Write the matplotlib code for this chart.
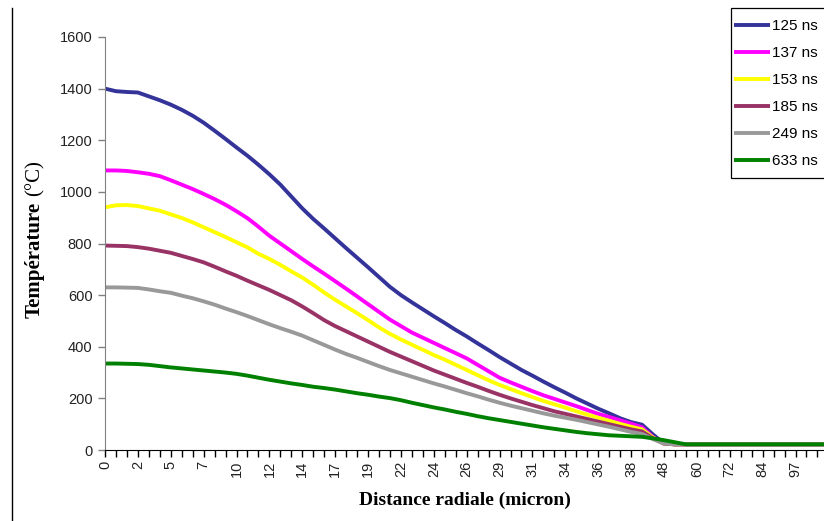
import matplotlib
matplotlib.use("Agg")
import matplotlib.pyplot as plt
from matplotlib.lines import Line2D
from matplotlib.patches import Rectangle

# Category axis: radial distance (micron)
distance = [0.0, 0.8, 1.6, 2.4, 3.2, 4.0, 4.8, 5.6, 6.4, 7.2, 8.0, 8.8, 9.6, 10.4,
            11.2, 12.0, 12.8, 13.6, 14.4, 15.2, 16.0, 16.8, 17.6, 18.4, 19.2, 20.0,
            20.8, 21.6, 22.4, 23.2, 24.0, 24.8, 25.6, 26.4, 27.2, 28.0, 28.8, 29.6,
            30.4, 31.2, 32.0, 32.8, 33.6, 34.4, 35.2, 36.0, 36.8, 37.6, 38.4, 41.6,
            44.8, 48.0, 52.0, 56.0, 60.0, 64.0, 68.0, 72.0, 76.0, 80.0, 84.0, 88.3,
            92.6, 97.0, 101.0, 105.0, 109.0]

series_labels = ["125 ns", "137 ns", "153 ns", "185 ns", "249 ns", "633 ns"]
series_colors = ["#333399", "#FF00FF", "#FFFF00", "#993366", "#999999", "#008000"]

t125 = [1400, 1390, 1387, 1385, 1370, 1355, 1338, 1318, 1295, 1268, 1237, 1205, 1172, 1140,
        1105, 1068, 1028, 982, 936, 895, 858, 820, 782, 745, 708, 670, 632, 600, 572, 545,
        518, 492, 465, 440, 413, 387, 360, 335, 310, 288, 265, 243, 222, 200, 180, 160, 142,
        123, 108, 98, 60, 25, 22, 22, 22, 22, 22, 22, 22, 22, 22, 22, 22, 22, 22, 22, 22]
t137 = [1083, 1083, 1081, 1076, 1070, 1061, 1045, 1028, 1011, 992, 972, 950, 925, 898, 865,
        830, 800, 770, 740, 711, 683, 654, 625, 595, 565, 535, 505, 480, 455, 435, 415, 395,
        375, 355, 330, 305, 280, 262, 245, 228, 212, 198, 184, 170, 155, 140, 128, 115, 102,
        88, 50, 25, 22, 22, 22, 22, 22, 22, 22, 22, 22, 22, 22, 22, 22, 22, 22]
t153 = [940, 948, 949, 945, 936, 927, 913, 899, 882, 863, 844, 825, 805, 785, 760, 740, 717,
        692, 668, 640, 610, 582, 556, 530, 503, 475, 450, 428, 408, 388, 368, 350, 330, 310,
        290, 270, 252, 236, 220, 205, 190, 177, 164, 150, 137, 125, 113, 101, 90, 80, 48, 25,
        22, 22, 22, 22, 22, 22, 22, 22, 22, 22, 22, 22, 22, 22, 22]
t185 = [792, 791, 790, 786, 780, 772, 764, 752, 740, 727, 710, 692, 675, 656, 638, 620, 600,
        580, 556, 530, 503, 480, 460, 440, 420, 400, 380, 362, 344, 326, 308, 292, 276, 260,
        245, 229, 214, 200, 187, 174, 162, 150, 140, 130, 120, 110, 100, 90, 80, 72, 45, 25,
        22, 22, 22, 22, 22, 22, 22, 22, 22, 22, 22, 22, 22, 22, 22]
t249 = [630, 630, 629, 628, 622, 615, 609, 598, 588, 576, 563, 548, 534, 519, 503, 487, 472,
        458, 443, 425, 407, 389, 372, 357, 341, 325, 310, 297, 284, 271, 258, 246, 233, 220,
        208, 195, 183, 172, 162, 152, 142, 133, 125, 117, 108, 99, 90, 80, 70, 62, 42, 25,
        22, 22, 22, 22, 22, 22, 22, 22, 22, 22, 22, 22, 22, 22, 22]
t633 = [335, 335, 334, 333, 330, 325, 320, 316, 312, 308, 304, 300, 295, 288, 280, 272, 265,
        258, 252, 245, 240, 234, 227, 220, 214, 207, 201, 193, 183, 174, 165, 157, 148, 140,
        131, 123, 116, 109, 102, 95, 88, 82, 76, 70, 65, 61, 57, 55, 53, 51, 45, 38, 30, 22,
        22, 22, 22, 22, 22, 22, 22, 22, 22, 22, 22, 22, 22]

series = [t125, t137, t153, t185, t249, t633]

y_ticks = [0, 200, 400, 600, 800, 1000, 1200, 1400, 1600]
label_every = 3
last_labelled = 63

W, H = 824, 521
fig = plt.figure(figsize=(W / 100, H / 100), dpi=100)
fig.patch.set_facecolor("white")
ax = fig.add_axes([105 / W, (H - 450) / H, (W - 105) / W, (450 - 37) / H])

idx = list(range(len(distance)))
for vals, lab, col in zip(series, series_labels, series_colors):
    ax.plot(idx, vals, color=col, lw=2.8, label=lab, solid_capstyle="butt",
            solid_joinstyle="round")

ax.set_xlim(0, 65.6)
ax.set_ylim(0, 1600)
ax.set_yticks(y_ticks)
ax.set_yticklabels([str(v) for v in y_ticks], fontfamily="Liberation Sans",
                   fontsize=10.5, color="#222222")
tick_idx = idx[:last_labelled + 3]
ax.set_xticks(tick_idx)
ax.set_xticklabels([f"{distance[i]:.0f}" if (i % label_every == 0 and i <= last_labelled) else ""
                    for i in tick_idx],
                   rotation=90, fontfamily="Liberation Sans", fontsize=10.5, color="#222222")
ax.tick_params(axis="x", direction="out", length=5, width=1, color="black", pad=3)
ax.tick_params(axis="y", direction="out", length=5, width=1, color="#808080", pad=4)

for s in ["top", "right"]:
    ax.spines[s].set_visible(False)
ax.spines["left"].set_color("#808080")
ax.spines["bottom"].set_color("black")

ax.set_xlabel("Distance radiale (micron)", fontfamily="Liberation Serif",
              fontweight="bold", fontsize=14, labelpad=10)

# y label: bold "Température" + regular "(°C)"
t1 = fig.text(35 / W, 1 - 318 / H, "Température", rotation=90, ha="center", va="bottom",
              fontfamily="Liberation Serif", fontweight="bold", fontsize=15)
fig.canvas.draw()
bb = t1.get_window_extent(fig.canvas.get_renderer())
fig.text(35 / W, (bb.y1 + 6) / H, "(°C)", rotation=90, ha="center", va="bottom",
         fontfamily="Liberation Serif", fontweight="normal", fontsize=15)

# legend: frame drawn separately to mimic the Excel box
fig.add_artist(Rectangle((731 / W, 1 - 178 / H), 100 / W, 170 / H, transform=fig.transFigure,
                         facecolor="white", edgecolor="black", lw=0.9, zorder=5))
leg = fig.legend(loc="upper left", bbox_to_anchor=(734 / W, 1 - 19 / H),
                 prop={"family": "Liberation Sans", "size": 11},
                 frameon=False, borderpad=0, labelspacing=0.85,
                 handlelength=2.35, handletextpad=0.15, borderaxespad=0)
leg.set_zorder(6)

fig.add_artist(Line2D([12 / W, 12 / W], [0, 1 - 8 / H], color="black", lw=1,
                      transform=fig.transFigure))

fig.savefig("out.png", dpi=100, facecolor="white")
